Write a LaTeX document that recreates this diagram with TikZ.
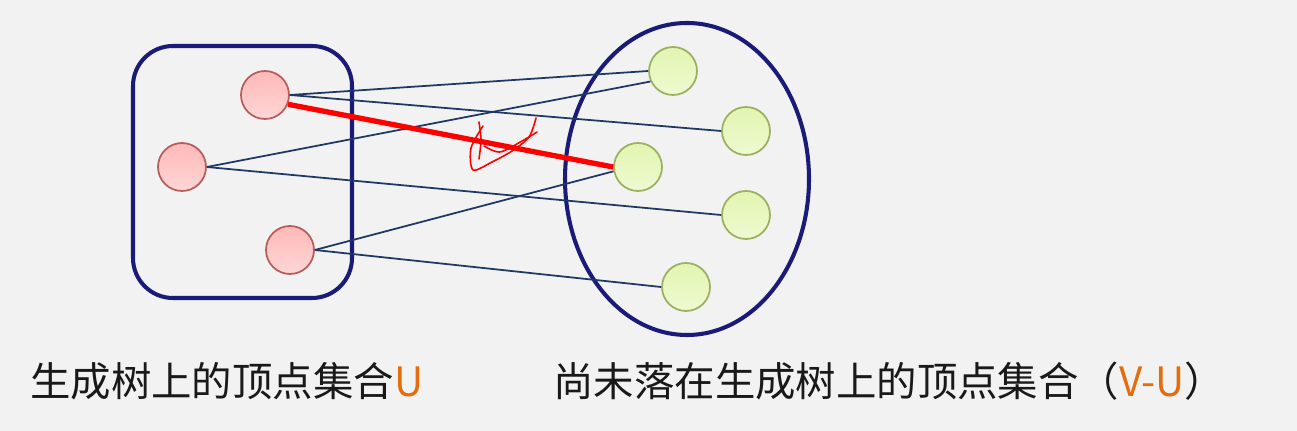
\documentclass[tikz,border=0pt]{standalone}
\usepackage{fontspec}
\newfontfamily\cjk{Noto Sans CJK SC}
\usetikzlibrary{calc}
\usetikzlibrary{positioning}

\definecolor{bgGray}{HTML}{F2F2F2}
\definecolor{setBlue}{HTML}{1A1A78}
\definecolor{edgeBlue}{HTML}{1F3864}
\definecolor{uOrange}{HTML}{E46C0A}
\definecolor{pinkLine}{HTML}{B85C5C}
\definecolor{greenLine}{HTML}{9CB060}

\tikzset{
  treenode/.style={circle, minimum size=0.96cm, inner sep=0pt, draw=pinkLine, line width=1pt,
    top color={rgb,255:red,255;green,184;blue,184}, bottom color={rgb,255:red,255;green,214;blue,214}},
  restnode/.style={circle, minimum size=0.96cm, inner sep=0pt, draw=greenLine, line width=1pt,
    top color={rgb,255:red,226;green,245;blue,176}, bottom color={rgb,255:red,238;green,250;blue,210}},
  cross/.style={draw=edgeBlue, line width=1pt},
  chosen/.style={draw=red, line width=3pt},
  caption/.style={anchor=west, inner sep=0pt, font=\cjk\fontsize{23}{28}\selectfont, text=black!90}
}

\begin{document}
\begin{tikzpicture}[x=0.02cm,y=-0.02cm]
      \fill[bgGray] (0,0) rectangle (1297,431);
      \useasboundingbox (0,0) rectangle (1297,431);

      % the two vertex sets
      \draw[setBlue, line width=2.3pt, rounded corners=0.8cm] (133,46) rectangle (352,298);
      \draw[setBlue, line width=2.3pt] (687,179) ellipse [x radius=122, y radius=156];

      \node[treenode] (u1) at (265,95) {};
      \node[treenode] (u2) at (182,167) {};
      \node[treenode] (u3) at (290,250) {};

      \node[restnode] (v1) at (673,71) {};
      \node[restnode] (v2) at (746,131) {};
      \node[restnode] (v3) at (638,167) {};
      \node[restnode] (v4) at (746,215) {};
      \node[restnode] (v5) at (686,287) {};

      \draw[cross] (u1.east) -- (v1.west);
      \draw[cross] (u1.east) -- (v2.west);
      \draw[cross] (u2.east) -- (v1.205);
      \draw[cross] (u2.east) -- (v4.west);
      \draw[cross] (u3.east) -- (v3.190);
      \draw[cross] (u3.east) -- (v5.west);

      \draw[chosen] (u1.-22) -- (v3.west);

      % hand mark
      \draw[red, line width=0.9pt, line cap=round, line join=round]
        plot[smooth] coordinates {(479,122) (481,140) (479,159)};
      \draw[red, line width=0.9pt, line cap=round, line join=round]
        plot[smooth] coordinates {(483,126) (471,148) (473,170) (492,162) (512,151) (529,137) (536,118)};
      \draw[red, line width=0.9pt, line cap=round, line join=round]
        plot[smooth] coordinates {(484,146) (500,152) (522,141) (537,132)};

      \node[caption] (capU) at (30,381) {生成树上的顶点集合\textcolor{uOrange}{U}};
      \node[caption] (capVU) at (553,381) {尚未落在生成树上的顶点集合（\textcolor{uOrange}{V-U}）};
    \end{tikzpicture}
\end{document}
